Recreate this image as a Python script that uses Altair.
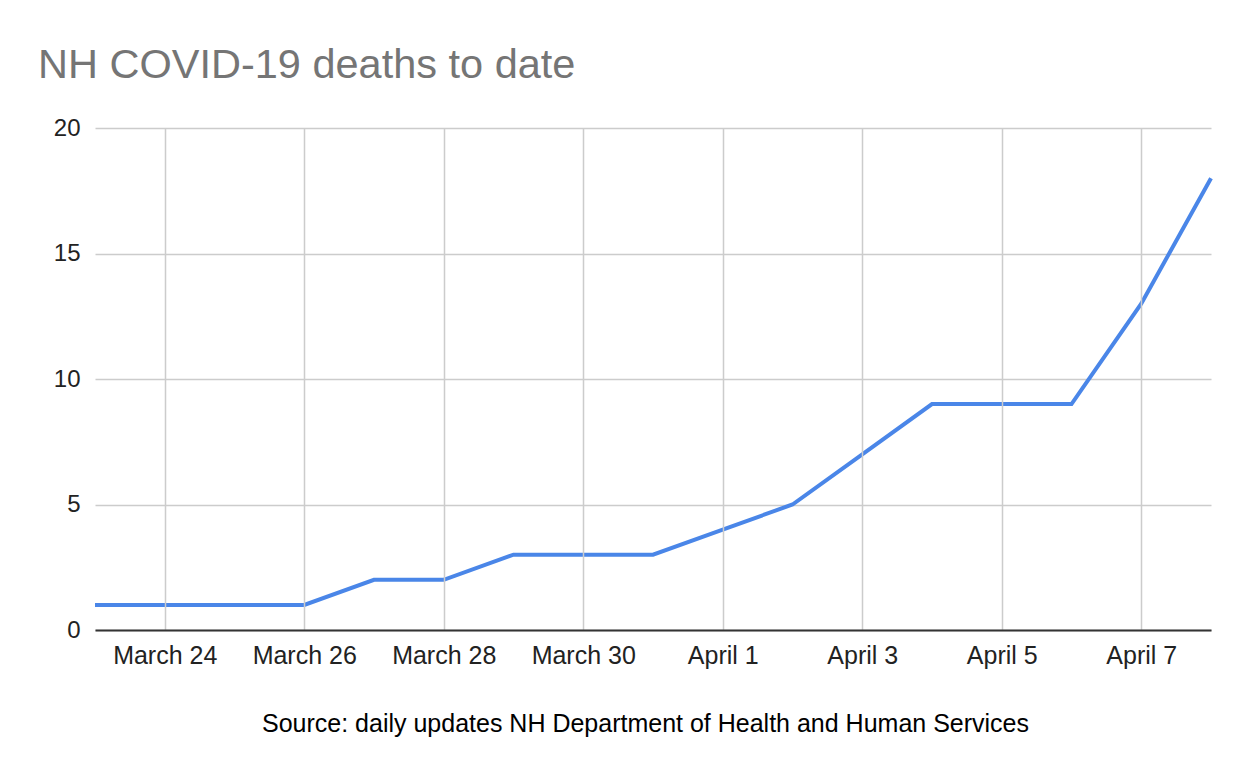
import altair as alt
import pandas as pd

dates = ["2020-03-23", "2020-03-24", "2020-03-25", "2020-03-26", "2020-03-27",
         "2020-03-28", "2020-03-29", "2020-03-30", "2020-03-31", "2020-04-01",
         "2020-04-02", "2020-04-03", "2020-04-04", "2020-04-05", "2020-04-06",
         "2020-04-07", "2020-04-08"]
deaths = [1, 1, 1, 1, 2, 2, 3, 3, 3, 4, 5, 7, 9, 9, 9, 13, 18]
tick_days = [(3, 24), (3, 26), (3, 28), (3, 30), (4, 1), (4, 3), (4, 5), (4, 7)]
y_ticks = [0, 5, 10, 15, 20]

df = pd.DataFrame({"date": dates, "deaths": deaths})

FONT = "Liberation Sans"

x_vals = [alt.DateTime(year=2020, month=m, date=d, utc=True) for m, d in tick_days]

chart = alt.Chart(df).mark_line(color="#4a86e8", strokeWidth=4, strokeJoin="miter").encode(
    x=alt.X("date:T",
            scale=alt.Scale(type="utc", nice=False,
                            domain=[alt.DateTime(year=2020, month=3, date=23, utc=True),
                                    alt.DateTime(year=2020, month=4, date=8, utc=True)]),
            axis=alt.Axis(values=x_vals,
                          labelExpr="utcFormat(datum.value, '%B %-d')",
                          title="Source: daily updates NH Department of Health and Human Services",
                          titleFont=FONT, titleFontSize=25, titleFontWeight="normal",
                          titleColor="#000000", titlePadding=43,
                          titleX=550, titleAlign="center",
                          labelFont=FONT, labelFontSize=25, labelColor="#222222",
                          labelPadding=13, ticks=False, domain=True,
                          domainColor="#333333", domainWidth=2,
                          grid=True, gridColor="#cccccc", gridWidth=1.5,
                          labelFlush=False, zindex=1)),
    y=alt.Y("deaths:Q",
            scale=alt.Scale(domain=[0, 20], nice=False),
            axis=alt.Axis(values=y_ticks, title=None, ticks=False, domain=False,
                          labelFont=FONT, labelFontSize=24, labelColor="#222222",
                          labelPadding=15, grid=True, gridColor="#cccccc", gridWidth=1.5)),
).properties(
    width=1116,
    height=502,
    title=alt.TitleParams("NH COVID-19 deaths to date", anchor="start", frame="group",
                          font=FONT, fontSize=41.5, fontWeight="normal", color="#757575",
                          dx=-57, offset=30),
    autosize=alt.AutoSizeParams(type="none"),
    padding={"left": 87, "top": 120, "right": 30, "bottom": 140},
).configure_view(stroke=None)

chart.save("out.html", embed_options={"renderer": "svg", "actions": False})
